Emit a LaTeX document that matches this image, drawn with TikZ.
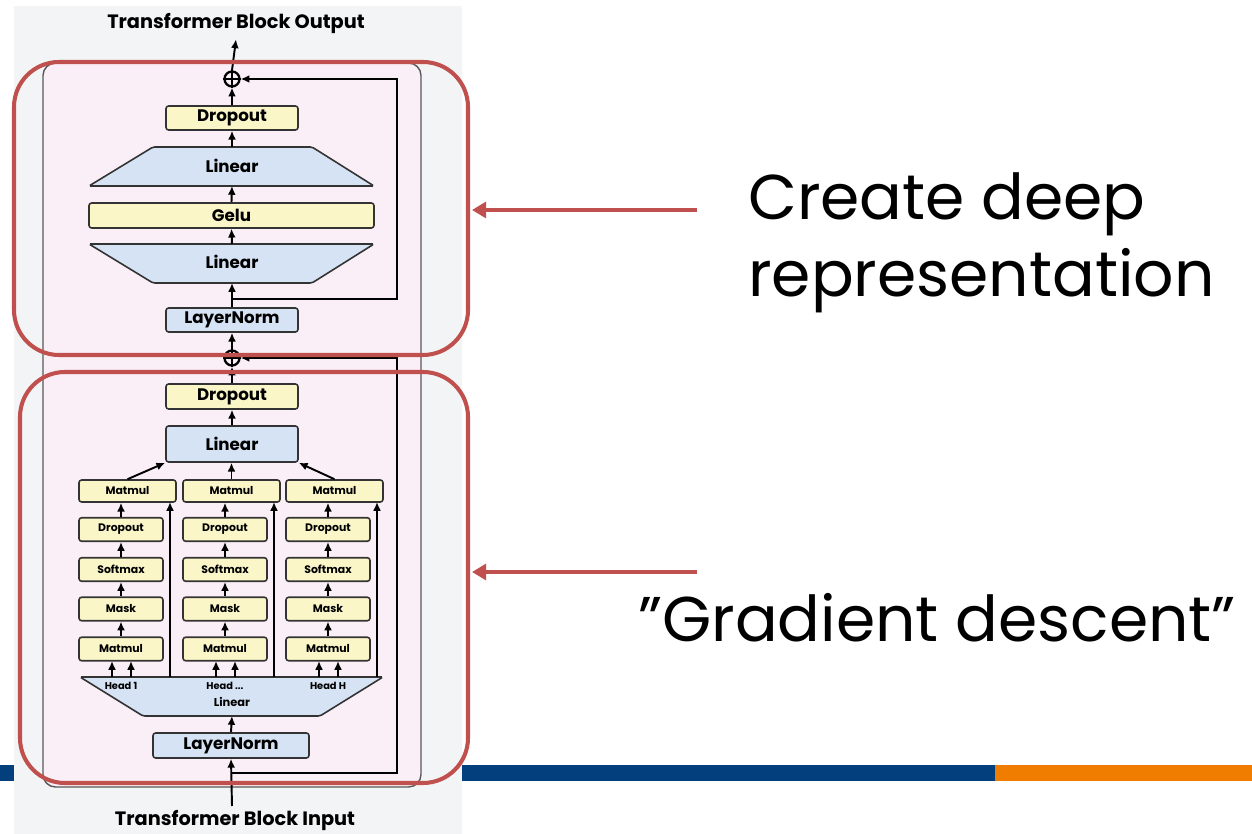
\documentclass[tikz,border=0pt]{standalone}
\usepackage{fontspec}
\setmainfont{Poppins}
\usetikzlibrary{arrows.meta}

\definecolor{boxyellow}{HTML}{FAF6C8}
\definecolor{boxblue}{HTML}{D5E3F4}
\definecolor{blockpink}{HTML}{FAEFF6}
\definecolor{shotgray}{HTML}{F3F4F6}
\definecolor{markred}{HTML}{C0504D}
\definecolor{barblue}{HTML}{033F7D}
\definecolor{barorange}{HTML}{F07D00}

\begin{document}
\begin{tikzpicture}[x=0.02cm,y=-0.02cm,
  ybox/.style={draw=black!80,fill=boxyellow,rounded corners=1.5pt,line width=0.9pt,inner sep=0pt,font=\bfseries\fontsize{9.5}{10}\selectfont},
  bbox/.style={ybox,fill=boxblue},
  sbox/.style={ybox,font=\bfseries\fontsize{6.2}{7}\selectfont,minimum width=1.68cm,minimum height=0.47cm},
  trap/.style={fill=boxblue,draw=black!80,line width=0.9pt,rounded corners=1pt},
  flow/.style={-{Latex[length=5pt,width=4.5pt]},line width=1.1pt},
  addop/.style={draw,circle,line width=1.3pt,minimum size=0.3cm,inner sep=0pt},
  redbox/.style={draw=markred,line width=2.3pt,rounded corners=0.9cm},
  redarrow/.style={-{Triangle[length=8pt,width=9pt]},line width=2.8pt,markred},
  note/.style={font=\fontsize{36}{44}\selectfont,align=left}]
\useasboundingbox (0,0) rectangle (1252,834);

% slide bar and screenshot
\fill[barblue] (0,765) rectangle (995,781);
\fill[barorange] (995,765) rectangle (1252,781);
\fill[shotgray] (14,6) rectangle (462,834);
\draw[fill=blockpink,draw=black!65,line width=0.8pt,rounded corners=0.25cm] (43,63) rectangle (421,787);

\node[font=\bfseries\fontsize{11}{13}\selectfont] (out) at (236,23) {Transformer Block Output};
\node[font=\bfseries\fontsize{11}{13}\selectfont] (inp) at (235,820) {Transformer Block Input};
\coordinate (inpt) at (232,806);

% feed forward part
\node[addop] (add2) at (232,79) {};
\draw[line width=1.3pt] (add2.north) -- (add2.south) (add2.west) -- (add2.east);
\node[ybox,minimum width=2.64cm,minimum height=0.48cm] (drop2) at (232,118) {Dropout};
\filldraw[trap] (153,147) -- (312,147) -- (374,186) -- (89,186) -- cycle;
\node[font=\bfseries\fontsize{9.5}{10}\selectfont] (lin3) at (232,166) {Linear};
\coordinate (lin3t) at (232,147);
\coordinate (lin3b) at (232,186);
\node[ybox,minimum width=5.7cm,minimum height=0.5cm] (gelu) at (231.5,215.5) {Gelu};
\filldraw[trap] (89,244) -- (374,244) -- (312,283) -- (153,283) -- cycle;
\node[font=\bfseries\fontsize{9.5}{10}\selectfont] (lin2) at (232,262) {Linear};
\coordinate (lin2t) at (232,244);
\coordinate (lin2b) at (232,283);
\coordinate (br2) at (232,299);
\node[bbox,minimum width=2.64cm,minimum height=0.48cm] (ln2) at (232,320) {LayerNorm};

\draw[flow] (add2.north) -- (out.south);
\draw[flow] (drop2.north) -- (add2.south);
\draw[flow] (lin3t) -- (drop2.south);
\draw[flow] (gelu.north) -- (lin3b);
\draw[flow] (lin2t) -- (gelu.south);
\draw[flow] (ln2.north) -- (lin2b);
\draw[flow] (br2) -| (397,79) -- (add2.east);

% attention part
\node[addop] (add1) at (232,358) {};
\draw[line width=1.3pt] (add1.north) -- (add1.south) (add1.west) -- (add1.east);
\node[ybox,minimum width=2.64cm,minimum height=0.5cm] (drop1) at (232,396.5) {Dropout};
\node[bbox,minimum width=2.64cm,minimum height=0.72cm] (lin1) at (232,444) {Linear};
\filldraw[trap] (80,677) -- (383,677) -- (320,716) -- (143,716) -- cycle;
\node[font=\bfseries\fontsize{6.5}{7}\selectfont] (hlin) at (232,702) {Linear};
\coordinate (hlinb) at (232,716);
\node[bbox,minimum width=3.12cm,minimum height=0.5cm] (ln1) at (231,745.5) {LayerNorm};
\coordinate (br1) at (232,773);

\foreach \c/\x in {1/121,2/225,3/328}
{
  \node[ybox,font=\bfseries\fontsize{6.2}{7}\selectfont,minimum width=1.94cm,minimum height=0.44cm] (mt\c) at (\x+6.5,491) {Matmul};
  \node[sbox] (dr\c) at (\x,529.5) {Dropout};
  \node[sbox] (sm\c) at (\x,569.5) {Softmax};
  \node[sbox] (mk\c) at (\x,609) {Mask};
  \node[sbox] (qk\c) at (\x,649) {Matmul};
  \draw[flow] (qk\c) -- (mk\c);
  \draw[flow] (mk\c) -- (sm\c);
  \draw[flow] (sm\c) -- (dr\c);
  \draw[flow] (dr\c) -- (mt\c.south -| dr\c);
  \draw[flow] (\x-9,677) -- (\x-9,661);
  \draw[flow] (\x+10,677) -- (\x+10,661);
  \draw[flow] (\x+49,677) -- (\x+49,502);
}
\node[font=\bfseries\fontsize{5.6}{6}\selectfont] (h1) at (121,686) {Head 1};
\node[font=\bfseries\fontsize{5.6}{6}\selectfont] (h2) at (225,686) {Head ...};
\node[font=\bfseries\fontsize{5.6}{6}\selectfont] (h3) at (328,686) {Head H};

\draw[flow] (add1.north) -- (ln2.south);
\draw[flow] (drop1.north) -- (add1.south);
\draw[flow] (lin1.north) -- (drop1.south);
\draw[flow] (mt1.north) -- (lin1.south west);
\draw[flow] (mt2.north) -- (mt2.north |- lin1.south);
\draw[flow] (mt3.north) -- (lin1.south east);
\draw[flow] (ln1.north) -- (hlinb);
\draw[flow] (inpt) -- (ln1.south);
\draw[flow] (br1) -| (397,358) -- (add1.east);

% highlight boxes and notes
\draw[redbox] (14,62) rectangle (468,355);
\draw[redbox] (20,372) rectangle (468,783);
\coordinate (ra1) at (697,210);
\coordinate (rb1) at (472,210);
\coordinate (ra2) at (697,572);
\coordinate (rb2) at (472,572);
\draw[redarrow] (ra1) -- (rb1);
\draw[redarrow] (ra2) -- (rb2);
\node[note,anchor=west] (deep) at (742,243) {Create deep\\representation};
\node[note] (grad) at (937,618) {”Gradient descent”};
\end{tikzpicture}
\end{document}
